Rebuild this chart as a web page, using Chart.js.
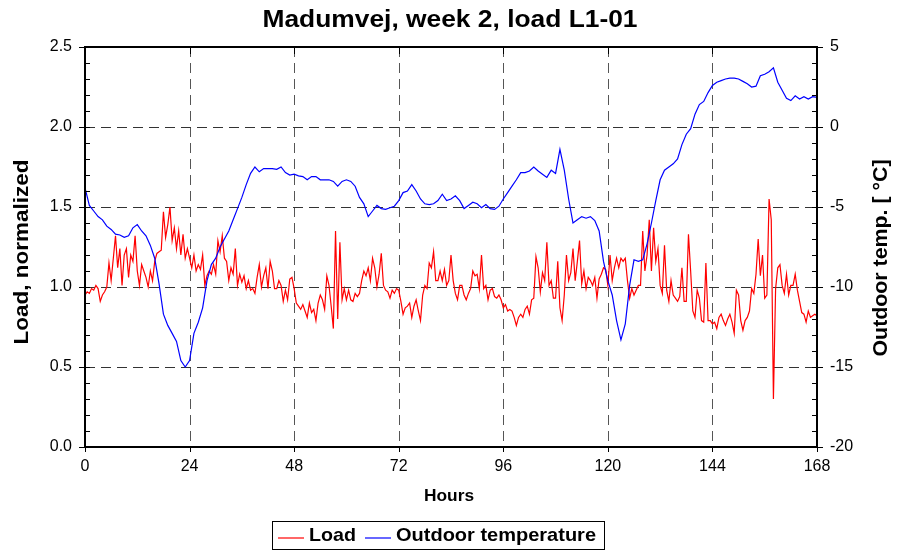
<!DOCTYPE html>
<html>
<head>
<meta charset="utf-8">
<script src="https://cdn.jsdelivr.net/npm/chart.js@4"></script>
<style>
  html, body { margin: 0; padding: 0; background: #fff; }
</style>
</head>
<body>
<canvas id="chart" width="897" height="551"></canvas>
<script>
const FONT = '"Liberation Sans", Arial, sans-serif';

// load, normalized - one value every half hour from hour 0 to 168
const LOAD_STEP = 0.5;
const loadValues = [
  0.95,0.97,0.96,0.99,0.98,1.01,0.99,0.91,0.95,0.97,
  1.0,1.15,1.04,1.18,1.32,1.12,1.24,1.01,1.2,1.24,
  1.06,1.2,1.16,1.32,1.1,1.01,1.14,1.1,1.06,1.0,
  1.1,1.04,1.16,1.21,1.22,1.23,1.47,1.31,1.39,1.5,
  1.29,1.37,1.24,1.35,1.2,1.33,1.18,1.24,1.18,1.12,
  1.2,1.1,1.14,1.11,1.2,1.01,1.07,1.1,1.08,1.14,
  1.08,1.29,1.22,1.32,1.18,1.16,1.04,1.12,1.08,1.24,
  1.01,1.08,1.03,1.07,0.99,1.04,0.98,0.99,0.96,1.06,
  1.14,1.0,1.07,1.12,0.99,
  1.16,1.1,0.99,0.99,1.04,1.01,0.91,0.98,0.92,1.05,
  1.06,0.99,0.9,0.88,0.86,0.89,0.85,0.81,0.9,0.84,
  0.86,0.79,0.9,0.95,0.92,0.86,1.07,1.01,0.88,0.74,
  1.35,0.8,1.28,0.92,0.99,0.92,0.98,0.92,0.91,0.96,
  0.94,0.96,1.04,1.1,1.07,1.12,1.04,1.18,1.12,1.0,
  1.08,1.21,1.01,0.98,0.97,0.93,0.98,0.96,0.99,0.98,
  0.91,0.83,0.87,0.88,0.9,0.81,0.88,0.92,0.85,0.79,
  0.95,1.01,0.99,1.15,1.12,1.22,1.04,1.04,1.1,1.04,
  1.11,1.01,1.04,1.2,
  1.04,0.96,0.92,1.01,1.01,0.95,0.92,0.96,0.99,1.1,
  1.07,1.08,0.99,1.2,0.99,1.01,0.92,0.98,0.99,0.94,
  0.93,0.95,0.92,0.87,0.89,0.85,0.86,0.85,0.81,0.76,
  0.81,0.83,0.81,0.86,0.88,0.83,0.92,0.93,1.19,1.12,
  0.97,1.09,1.04,1.28,1.01,1.04,0.93,0.93,1.16,0.87,
  0.79,0.95,1.2,1.04,1.09,1.24,1.04,1.16,1.29,1.02,
  1.1,0.99,1.06,1.04,1.01,1.06,0.93,1.05,1.08,1.12,
  1.11,1.01,1.2,1.04,1.12,1.18,1.12,1.18,1.16,1.18,
  1.04,0.93,0.99,0.95,
  0.98,1.01,1.01,1.35,1.1,1.2,1.42,1.1,1.37,1.16,
  1.24,1.01,0.96,1.26,0.98,0.91,1.04,0.95,0.93,0.91,
  0.94,1.12,0.91,0.91,1.33,1.1,0.85,0.81,0.98,0.93,
  0.79,0.78,1.15,0.79,0.79,0.77,0.78,0.74,0.81,0.83,
  0.79,0.76,0.8,0.83,0.78,0.71,0.98,0.95,0.79,0.73,
  0.79,0.81,0.85,0.99,0.96,1.08,1.3,1.07,1.2,0.93,
  0.95,1.55,1.42,0.3,0.99,1.12,1.14,1.01,0.96,1.08,
  0.95,1.01,1.01,1.08,0.98,0.91,0.84,0.83,0.78,0.85,
  0.81,0.82,0.83,0.82
];

// outdoor temperature in deg C, hourly
const TEMP_STEP = 1;
const tempValues = [
  -3.8, -4.9, -5.25, -5.6, -5.8, -6.2, -6.4, -6.7, -6.75, -6.9,
  -6.8, -6.3, -6.1, -6.5, -6.8, -7.4, -8.2, -9.8, -11.7, -12.4,
  -12.9, -13.4, -14.6, -15.0, -14.6, -12.9, -12.2, -11.3, -9.6, -8.6,
  -8.2, -7.5, -7.0, -6.5, -5.8, -5.1, -4.4, -3.6, -2.9, -2.5,
  -2.8, -2.6, -2.6, -2.6, -2.65, -2.5, -2.85, -3.0, -2.95, -3.05,
  -3.1, -3.3, -3.1, -3.1, -3.3, -3.3, -3.3, -3.4, -3.7, -3.4,
  -3.3, -3.4, -3.7, -4.4, -4.8, -5.6, -5.25, -4.9, -5.1, -5.15,
  -5.05, -4.95, -4.6, -4.1, -4.0, -3.6, -4.0, -4.5, -4.8, -4.85,
  -4.8, -4.6, -4.2, -4.6, -4.5, -4.3, -4.6, -5.1, -4.9, -4.7,
  -4.8, -5.05, -4.85, -5.1, -5.15, -4.95, -4.5, -4.1, -3.7, -3.3,
  -2.85, -2.85, -2.75, -2.5, -2.75, -2.95, -3.15, -2.7, -2.9, -1.4,
  -2.7, -4.5, -6.0, -5.8, -5.6, -5.7, -5.6, -5.85, -6.5, -8.4,
  -9.6, -10.5, -12.1, -13.3, -12.3, -9.9, -8.3, -8.4, -8.3, -7.3,
  -6.0, -4.6, -3.3, -2.7, -2.5, -2.3, -2.0, -1.1, -0.45, -0.1,
  0.8, 1.4, 1.6, 2.15, 2.6, 2.8, 2.9, 3.0, 3.05, 3.05,
  3.0, 2.85, 2.7, 2.5, 2.55, 3.2, 3.3, 3.45, 3.7, 2.8,
  2.3, 1.8, 1.65, 1.95, 1.75, 1.9, 1.75, 1.9, 1.85
];

const hourTicks = [0, 24, 48, 72, 96, 120, 144, 168];
const loadTicks = [0, 0.5, 1.0, 1.5, 2.0, 2.5];
const tempTicks = [-20, -15, -10, -5, 0, 5];

const loadPoints = loadValues.map((v, i) => ({ x: i * LOAD_STEP, y: v }));
const tempPoints = tempValues.map((v, i) => ({ x: i * TEMP_STEP, y: v }));

// bold text centred on (x, y), squeezed/stretched to a given length
function label(ctx, text, x, y, size, len, angle, align) {
  ctx.save();
  ctx.translate(x, y);
  if (angle) ctx.rotate(angle);
  ctx.font = 'bold ' + size + 'px ' + FONT;
  const w = ctx.measureText(text).width;
  if (len) ctx.scale(len / w, 1);
  ctx.textAlign = align || 'center';
  ctx.textBaseline = 'middle';
  ctx.fillStyle = '#000';
  ctx.fillText(text, 0, 0);
  ctx.restore();
}

function seg(ctx, x1, y1, x2, y2) {
  ctx.beginPath();
  ctx.moveTo(x1, y1);
  ctx.lineTo(x2, y2);
  ctx.stroke();
}

const framePlugin = {
  id: 'frame',
  beforeDatasetsDraw(chart) {
    const { ctx, chartArea: a, scales } = chart;
    ctx.save();
    ctx.lineWidth = 1;
    ctx.setLineDash([10, 6]);
    ctx.strokeStyle = '#555';
    hourTicks.slice(1, -1).forEach(h => {
      const px = Math.round(scales.x.getPixelForValue(h)) + 0.5;
      seg(ctx, px, a.top, px, a.bottom);
    });
    ctx.strokeStyle = '#333';
    loadTicks.slice(1, -1).forEach(v => {
      const py = Math.round(scales.y.getPixelForValue(v)) + 0.5;
      seg(ctx, a.left, py, a.right, py);
    });
    ctx.restore();
  },
  afterDatasetsDraw(chart) {
    const { ctx, chartArea: a, scales } = chart;
    ctx.save();
    ctx.strokeStyle = '#000';
    ctx.lineWidth = 1;
    // minor ticks pointing inwards
    for (let v = 0.1; v < 2.5; v += 0.1) {
      const py = Math.round(scales.y.getPixelForValue(v)) + 0.5;
      seg(ctx, a.left, py, a.left + 5, py);
    }
    for (let t = -19; t < 5; t++) {
      const py = Math.round(scales.y2.getPixelForValue(t)) + 0.5;
      seg(ctx, a.right - 5, py, a.right, py);
    }
    // major ticks pointing outwards
    loadTicks.forEach(v => {
      const py = Math.round(scales.y.getPixelForValue(v)) + 0.5;
      seg(ctx, a.left - 6, py, a.left, py);
    });
    tempTicks.forEach(t => {
      const py = Math.round(scales.y2.getPixelForValue(t)) + 0.5;
      seg(ctx, a.right, py, a.right + 6, py);
    });
    hourTicks.forEach(h => {
      const px = Math.round(scales.x.getPixelForValue(h)) + 0.5;
      seg(ctx, px, a.top, px, a.top + 7);
      seg(ctx, px, a.bottom, px, a.bottom + 5);
    });
    ctx.lineWidth = 2;
    ctx.strokeRect(a.left, a.top, a.right - a.left, a.bottom - a.top);
    ctx.restore();
  },
  afterDraw(chart) {
    const ctx = chart.ctx;
    label(ctx, 'Madumvej, week 2, load L1-01', 450, 20, 24, 375);
    label(ctx, 'Load, normalized', 22, 252, 21, 185, -Math.PI / 2);
    label(ctx, 'Outdoor temp. [ \u00B0C]', 881, 258, 20, 197, -Math.PI / 2);
    label(ctx, 'Hours', 449, 497, 16, 50);

    // legend box
    ctx.save();
    ctx.strokeStyle = '#000';
    ctx.lineWidth = 1;
    ctx.strokeRect(272.5, 521.5, 332, 28);
    ctx.lineWidth = 1.2;
    ctx.strokeStyle = '#ff0000';
    seg(ctx, 278, 538, 304, 538);
    ctx.strokeStyle = '#0000ff';
    seg(ctx, 365, 538, 391, 538);
    ctx.restore();
    label(ctx, 'Load', 309, 536, 19, 47, 0, 'left');
    label(ctx, 'Outdoor temperature', 396, 536, 19, 200, 0, 'left');
  }
};

const tickFont = { family: FONT, size: 16 };

new Chart(document.getElementById('chart'), {
  type: 'line',
  data: {
    datasets: [{
      label: 'Load',
      data: loadPoints,
      yAxisID: 'y',
      borderColor: '#ff0000',
      borderWidth: 1.2,
      pointRadius: 0,
      tension: 0,
      order: 1
    }, {
      label: 'Outdoor temperature',
      data: tempPoints,
      yAxisID: 'y2',
      borderColor: '#0000ff',
      borderWidth: 1.2,
      pointRadius: 0,
      tension: 0,
      order: 0
    }]
  },
  options: {
    responsive: false,
    animation: false,
    layout: { padding: { top: 47, left: 0, right: 0, bottom: 0 } },
    plugins: { legend: { display: false }, title: { display: false }, tooltip: { enabled: false } },
    scales: {
      x: {
        type: 'linear', min: 0, max: 168,
        grid: { display: false, drawTicks: false },
        border: { display: false },
        ticks: { stepSize: 24, padding: 10, color: '#000', font: tickFont, maxRotation: 0, autoSkip: false },
        afterFit(s) { s.height = 104; }
      },
      y: {
        position: 'left', min: 0, max: 2.5,
        grid: { display: false, drawTicks: false },
        border: { display: false },
        ticks: { stepSize: 0.5, padding: 13, color: '#000', font: tickFont, callback: v => v.toFixed(1) },
        afterFit(s) { s.width = 85; }
      },
      y2: {
        position: 'right', min: -20, max: 5,
        grid: { display: false, drawTicks: false },
        border: { display: false },
        ticks: { stepSize: 5, padding: 13, color: '#000', font: tickFont },
        afterFit(s) { s.width = 80; }
      }
    }
  },
  plugins: [framePlugin]
});
</script>
</body>
</html>
